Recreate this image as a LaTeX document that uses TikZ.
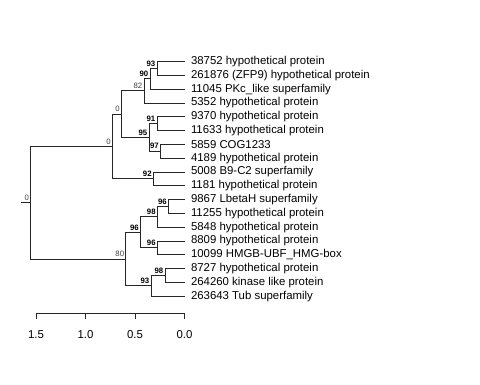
\documentclass[tikz,border=0pt]{standalone}
\usepackage{fontspec}
\setmainfont{Liberation Sans}
\begin{document}
\begin{tikzpicture}[x=1pt,y=-1pt,
  br/.style={draw=black!85, line width=0.8pt},
  leaf/.style={anchor=west, inner sep=0pt, xshift=6.3pt, font=\fontsize{11.4}{13}\selectfont},
  bsb/.style={anchor=south east, inner sep=0pt, xshift=-1.5pt, yshift=2pt, font=\fontsize{7.8}{8}\selectfont\bfseries},
  bsn/.style={anchor=south east, inner sep=0pt, xshift=-1.5pt, yshift=2pt, font=\fontsize{7.8}{8}\selectfont, text=black!75},
  tick/.style={font=\fontsize{11.4}{13}\selectfont, inner sep=0pt}]
\useasboundingbox (0,0) rectangle (480,384);
% tips
\def\tx{184.5}
\coordinate (t0) at (\tx,61.5);
\coordinate (t1) at (\tx,75.3);
\coordinate (t2) at (\tx,89.1);
\coordinate (t3) at (\tx,102.9);
\coordinate (t4) at (\tx,116.7);
\coordinate (t5) at (\tx,130.5);
\coordinate (t6) at (\tx,144.3);
\coordinate (t7) at (\tx,158.1);
\coordinate (t8) at (\tx,171.9);
\coordinate (t9) at (\tx,185.7);
\coordinate (t10) at (\tx,199.5);
\coordinate (t11) at (\tx,213.3);
\coordinate (t12) at (\tx,227.1);
\coordinate (t13) at (\tx,240.9);
\coordinate (t14) at (\tx,254.7);
\coordinate (t15) at (\tx,268.5);
\coordinate (t16) at (\tx,282.3);
\coordinate (t17) at (\tx,296.1);
% leaf labels
\node[leaf] (L0) at (t0) {38752 hypothetical protein};
\node[leaf] (L1) at (t1) {261876 (ZFP9) hypothetical protein};
\node[leaf] (L2) at (t2) {11045 PKc\_like superfamily};
\node[leaf] (L3) at (t3) {5352 hypothetical protein};
\node[leaf] (L4) at (t4) {9370 hypothetical protein};
\node[leaf] (L5) at (t5) {11633 hypothetical protein};
\node[leaf] (L6) at (t6) {5859 COG1233};
\node[leaf] (L7) at (t7) {4189 hypothetical protein};
\node[leaf] (L8) at (t8) {5008 B9-C2 superfamily};
\node[leaf] (L9) at (t9) {1181 hypothetical protein};
\node[leaf] (L10) at (t10) {9867 LbetaH superfamily};
\node[leaf] (L11) at (t11) {11255 hypothetical protein};
\node[leaf] (L12) at (t12) {5848 hypothetical protein};
\node[leaf] (L13) at (t13) {8809 hypothetical protein};
\node[leaf] (L14) at (t14) {10099 HMGB-UBF\_HMG-box};
\node[leaf] (L15) at (t15) {8727 hypothetical protein};
\node[leaf] (L16) at (t16) {264260 kinase like protein};
\node[leaf] (L17) at (t17) {263643 Tub superfamily};
% internal nodes
\coordinate (a93) at (157,68.4);
\coordinate (a90) at (150,78.7);
\coordinate (a82) at (144,90.8);
\coordinate (a91) at (157,123.6);
\coordinate (a97) at (160.5,151.2);
\coordinate (a95) at (149,137.4);
\coordinate (a0i) at (121.5,114.1);
\coordinate (a92) at (153.3,178.8);
\coordinate (a0o) at (112.5,146.5);
\coordinate (b96a) at (168.5,206.4);
\coordinate (b98a) at (157.3,216.8);
\coordinate (b96b) at (157.3,247.8);
\coordinate (b96c) at (140.5,232.3);
\coordinate (b98b) at (165,275.4);
\coordinate (b93) at (151,285.8);
\coordinate (b80) at (125.8,259);
\coordinate (root) at (30.7,202.8);
\coordinate (stub) at (20.7,202.8);
% branches
\draw[br] (a93) |- (t0); \draw[br] (a93) |- (t1);
\draw[br] (a90) |- (a93); \draw[br] (a90) |- (t2);
\draw[br] (a82) |- (a90); \draw[br] (a82) |- (t3);
\draw[br] (a91) |- (t4); \draw[br] (a91) |- (t5);
\draw[br] (a97) |- (t6); \draw[br] (a97) |- (t7);
\draw[br] (a95) |- (a91); \draw[br] (a95) |- (a97);
\draw[br] (a0i) |- (a82); \draw[br] (a0i) |- (a95);
\draw[br] (a92) |- (t8); \draw[br] (a92) |- (t9);
\draw[br] (a0o) |- (a0i); \draw[br] (a0o) |- (a92);
\draw[br] (b96a) |- (t10); \draw[br] (b96a) |- (t11);
\draw[br] (b98a) |- (b96a); \draw[br] (b98a) |- (t12);
\draw[br] (b96b) |- (t13); \draw[br] (b96b) |- (t14);
\draw[br] (b96c) |- (b98a); \draw[br] (b96c) |- (b96b);
\draw[br] (b98b) |- (t15); \draw[br] (b98b) |- (t16);
\draw[br] (b93) |- (b98b); \draw[br] (b93) |- (t17);
\draw[br] (b80) |- (b96c); \draw[br] (b80) |- (b93);
\draw[br] (root) |- (a0o); \draw[br] (root) |- (b80);
\draw[br] (stub) -- (root);
% support values
\node[bsb] (s93) at (a93) {93};
\node[bsb] (s90) at (a90) {90};
\node[bsn] (s82) at (a82) {82};
\node[bsb] (s91) at (a91) {91};
\node[bsb] (s97) at (a97) {97};
\node[bsb] (s95) at (a95) {95};
\node[bsn] (s0i) at (a0i) {0};
\node[bsb] (s92) at (a92) {92};
\node[bsn] (s0o) at (a0o) {0};
\node[bsb] (s96a) at (b96a) {96};
\node[bsb] (s98a) at (b98a) {98};
\node[bsb] (s96b) at (b96b) {96};
\node[bsb] (s96c) at (b96c) {96};
\node[bsb] (s98b) at (b98b) {98};
\node[bsb] (s93b) at (b93) {93};
\node[bsn] (s80) at (b80) {80};
\node[bsn] (sroot) at (root) {0};
% scale axis
\coordinate (x15) at (36,313.3);
\coordinate (x10) at (85.5,313.3);
\coordinate (x05) at (135,313.3);
\coordinate (x00) at (184.5,313.3);
\draw[br] (x15) -- (x00);
\foreach \c/\l in {x15/1.5,x10/1.0,x05/0.5,x00/0.0}{
  \draw[br] (\c) -- ++(0,5.5);
  \node[tick] (lab\c) at ([yshift=-21pt]\c) {\l};
}
\end{tikzpicture}
\end{document}
